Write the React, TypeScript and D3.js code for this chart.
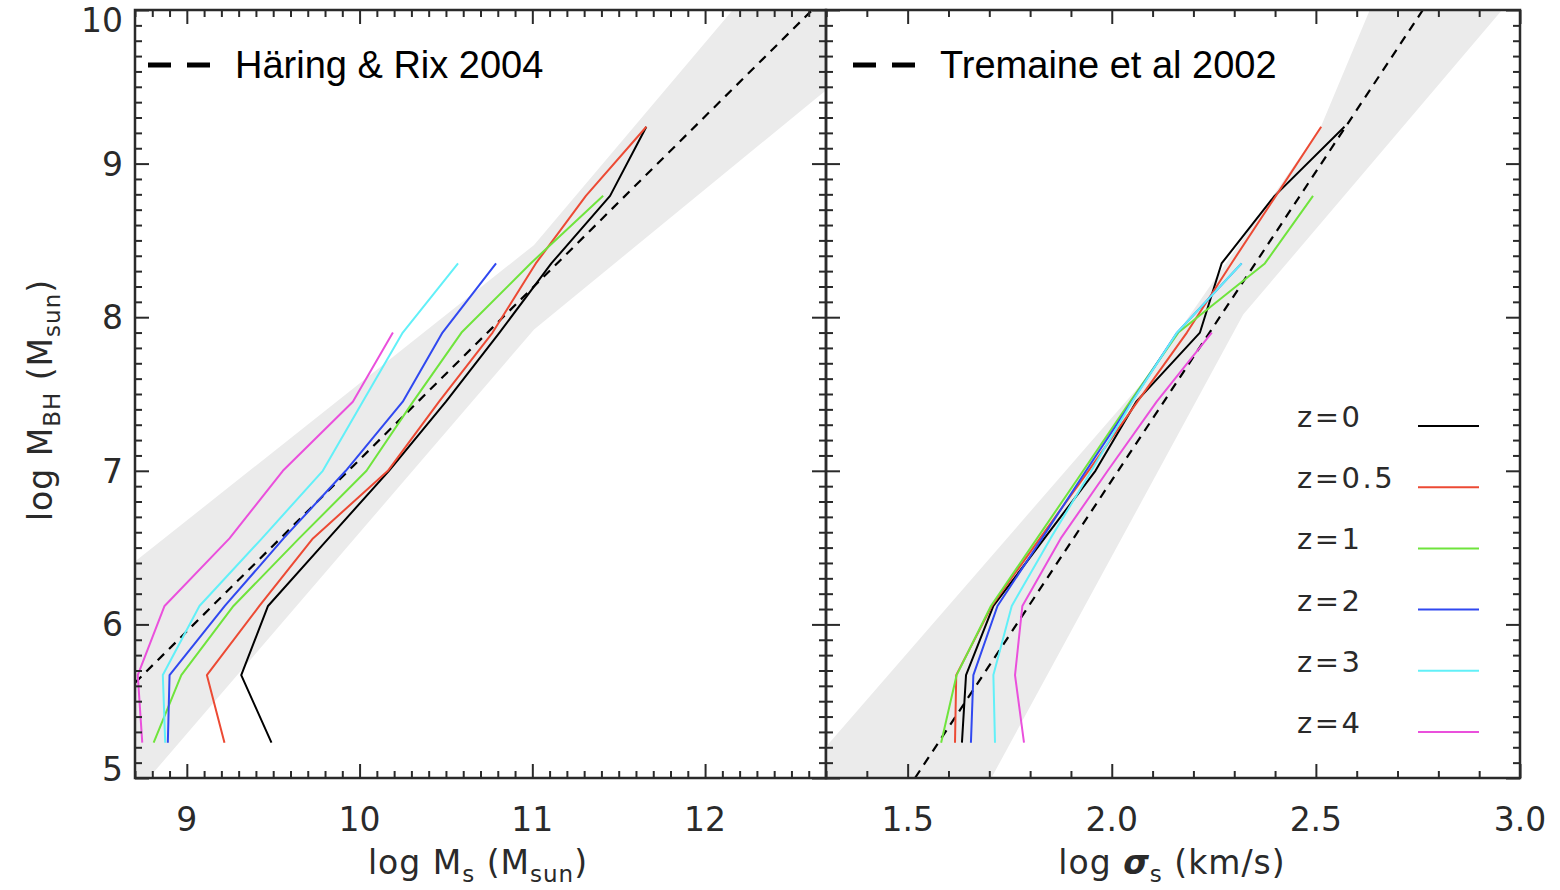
import React, { useEffect, useRef } from "react";
import * as d3 from "d3";

// black hole mass bins (log M_BH) every curve is sampled at
const mbhLevels = [5.23, 5.67, 6.12, 6.56, 7.0, 7.45, 7.9, 8.35, 8.79, 9.24];

const redshifts = ["z=0", "z=0.5", "z=1", "z=2", "z=3", "z=4"];
const colors = ["#000000", "#ec4a34", "#6fe43c", "#3048f0", "#62f0f8", "#ea50dc"];

// log Ms per mass bin, one array per redshift
const msZ0 = [9.49, 9.315, 9.47, 9.82, 10.17, 10.5, 10.81, 11.11, 11.45, 11.66];
const msZ05 = [9.218, 9.116, 9.42, 9.73, 10.164, 10.46, 10.77, 11.02, 11.31, 11.66];
const msZ1 = [8.808, 8.968, 9.27, 9.65, 10.04, 10.31, 10.59, 10.99, 11.41];
const msZ2 = [8.89, 8.9, 9.22, 9.56, 9.92, 10.25, 10.48, 10.79];
const msZ3 = [8.875, 8.861, 9.073, 9.435, 9.787, 10.018, 10.25, 10.57];
const msZ4 = [8.742, 8.716, 8.871, 9.247, 9.556, 9.961, 10.193];

// log sigma per mass bin, one array per redshift
const sigZ0 = [1.633, 1.643, 1.71, 1.835, 1.96, 2.06, 2.216, 2.269, 2.399, 2.57];
const sigZ05 = [1.616, 1.619, 1.706, 1.824, 1.943, 2.063, 2.184, 2.293, 2.402, 2.513];
const sigZ1 = [1.582, 1.62, 1.704, 1.817, 1.93, 2.045, 2.163, 2.375, 2.493];
const sigZ2 = [1.655, 1.661, 1.72, 1.829, 1.937, 2.049, 2.16, 2.318];
const sigZ3 = [1.714, 1.71, 1.755, 1.85, 1.95, 2.05, 2.16, 2.318];
const sigZ4 = [1.785, 1.763, 1.781, 1.875, 1.99, 2.11, 2.245];

// observed relations (dashed) and their scatter bands
const hrLineX = [8.7, 12.62];
const hrLineY = [5.62, 10.0];
const hrBandX = [8.6, 11.01, 12.16, 12.3, 12.8, 12.8, 11.01, 8.78, 8.7, 8.6];
const hrBandY = [6.32, 8.47, 10.0, 10.2, 10.2, 9.57, 7.92, 5.0, 4.9, 4.9];

const tLineX = [1.518, 2.762];
const tLineY = [5.0, 10.0];
const tBandX = [1.25, 2.083, 2.512, 2.632, 2.66, 3.02, 2.956, 2.322, 1.705, 1.68, 1.25];
const tBandY = [5.05, 7.6, 9.239, 10.0, 10.2, 10.2, 10.0, 8.017, 5.0, 4.9, 4.9];

const yTicks = [5, 6, 7, 8, 9, 10];
const msTicks = [9, 10, 11, 12];
const sigTicks = [1.5, 2.0, 2.5, 3.0];

const App = () => {
  const ref = useRef<SVGSVGElement>(null);

  useEffect(() => {
    const svg = d3.select(ref.current);
    svg.selectAll("*").remove();

    const top = 10;
    const bottom = 778;
    const tickFont = "DejaVu Sans";
    const ink = "#2a2a2a";

    const y = d3.scaleLinear().domain([5, 10]).range([bottom, top]);
    const xMs = d3.scaleLinear().domain([8.7, 12.7]).range([135, 826]);
    const xSig = d3.scaleLinear().domain([1.3, 3.0]).range([826, 1520]);

    const yMinor = d3.range(50, 101).map((v) => v / 10).filter((v) => !yTicks.includes(v));

    const panel = (id, x, bandX, bandY, relX, relY, series, major, minor) => {
      const [x0, x1] = x.range();
      const line = d3
        .line()
        .x((d) => x(d[0]))
        .y((d) => y(d[1]));

      svg
        .append("clipPath")
        .attr("id", id)
        .append("rect")
        .attr("x", x0)
        .attr("y", top)
        .attr("width", x1 - x0)
        .attr("height", bottom - top);

      const g = svg.append("g").attr("clip-path", `url(#${id})`);

      // scatter band
      g.append("path")
        .datum(d3.zip(bandX, bandY))
        .attr("fill", "#ebebeb")
        .attr("d", (d) => line(d) + "Z");

      // observed relation
      g.append("path")
        .datum(d3.zip(relX, relY))
        .attr("fill", "none")
        .attr("stroke", "#000")
        .attr("stroke-width", 2.2)
        .attr("stroke-dasharray", "9,7")
        .attr("d", line);

      // model curves
      series.forEach((vals, i) => {
        g.append("path")
          .datum(d3.zip(vals, mbhLevels))
          .attr("fill", "none")
          .attr("stroke", colors[i])
          .attr("stroke-width", 2)
          .attr("stroke-linejoin", "round")
          .attr("d", line);
      });

      // ticks on all four sides, pointing inwards
      const axes = svg.append("g").attr("color", ink).attr("stroke-width", 2);
      const put = (axis, tx, ty) => {
        axes
          .append("g")
          .attr("transform", `translate(${tx},${ty})`)
          .call(axis.tickFormat(() => ""))
          .call((s) => s.select(".domain").remove());
      };
      put(d3.axisBottom(x).tickValues(major).tickSize(-14), 0, bottom);
      put(d3.axisBottom(x).tickValues(minor).tickSize(-7), 0, bottom);
      put(d3.axisTop(x).tickValues(major).tickSize(-14), 0, top);
      put(d3.axisTop(x).tickValues(minor).tickSize(-7), 0, top);
      put(d3.axisLeft(y).tickValues(yTicks).tickSize(-14), x0, 0);
      put(d3.axisLeft(y).tickValues(yMinor).tickSize(-7), x0, 0);
      put(d3.axisRight(y).tickValues(yTicks).tickSize(-14), x1, 0);
      put(d3.axisRight(y).tickValues(yMinor).tickSize(-7), x1, 0);

      axes
        .append("rect")
        .attr("x", x0)
        .attr("y", top)
        .attr("width", x1 - x0)
        .attr("height", bottom - top)
        .attr("fill", "none")
        .attr("stroke", ink)
        .attr("stroke-width", 2.5);
    };

    const msMinor = d3.range(87, 128).map((v) => v / 10).filter((v) => !msTicks.includes(v));
    const sigMinor = d3.range(13, 31).map((v) => v / 10).filter((v) => !sigTicks.includes(v));

    panel("clipL", xMs, hrBandX, hrBandY, hrLineX, hrLineY, [msZ0, msZ05, msZ1, msZ2, msZ3, msZ4], msTicks, msMinor);
    panel("clipR", xSig, tBandX, tBandY, tLineX, tLineY, [sigZ0, sigZ05, sigZ1, sigZ2, sigZ3, sigZ4], sigTicks, sigMinor);

    // tick labels
    svg
      .append("g")
      .selectAll("text")
      .data(yTicks)
      .join("text")
      .attr("x", 123)
      .attr("y", (d) => y(d) + 12 + (d === 10 ? 10 : d === 5 ? -9 : 0))
      .attr("text-anchor", "end")
      .attr("font-family", tickFont)
      .attr("font-size", 33)
      .attr("fill", ink)
      .text((d) => d);

    svg
      .append("g")
      .selectAll("text")
      .data(msTicks)
      .join("text")
      .attr("x", (d) => xMs(d))
      .attr("y", 831)
      .attr("text-anchor", "middle")
      .attr("font-family", tickFont)
      .attr("font-size", 33)
      .attr("fill", ink)
      .text((d) => d);

    svg
      .append("g")
      .selectAll("text")
      .data(sigTicks)
      .join("text")
      .attr("x", (d) => xSig(d))
      .attr("y", 831)
      .attr("text-anchor", "middle")
      .attr("font-family", tickFont)
      .attr("font-size", 33)
      .attr("fill", ink)
      .text((d) => d3.format(".1f")(d));

    // axis titles
    const title = (t, parts) => {
      parts.forEach(([s, sub, extra]) => {
        const ts = t.append("tspan").text(s);
        if (sub === 1) ts.attr("font-size", 23).attr("dy", 8);
        if (sub === -1) ts.attr("dy", -8);
        if (extra) ts.attr("font-weight", "bold").attr("font-style", "italic");
      });
    };

    const xt1 = svg
      .append("text")
      .attr("x", 478)
      .attr("y", 874)
      .attr("text-anchor", "middle")
      .attr("font-family", tickFont)
      .attr("font-size", 33)
      .attr("letter-spacing", 1)
      .attr("fill", ink);
    title(xt1, [["log  M", 0], ["s", 1], [" (M", -1], ["sun", 1], [")", -1]]);

    const xt2 = svg
      .append("text")
      .attr("x", 1172)
      .attr("y", 874)
      .attr("text-anchor", "middle")
      .attr("font-family", tickFont)
      .attr("font-size", 33)
      .attr("letter-spacing", 1)
      .attr("fill", ink);
    title(xt2, [["log  ", 0], ["σ", 0, true], ["s", 1], [" (km/s)", -1]]);

    const yt = svg
      .append("text")
      .attr("transform", "translate(52,400) rotate(-90)")
      .attr("text-anchor", "middle")
      .attr("font-family", tickFont)
      .attr("font-size", 33)
      .attr("letter-spacing", 1)
      .attr("fill", ink);
    title(yt, [["log  M", 0], ["BH", 1], [" (M", -1], ["sun", 1], [")", -1]]);

    // relation legends in the top-left corners
    const relLegend = (x0, label) => {
      const lg = svg.append("g");
      [0, 39].forEach((off) => {
        lg.append("line")
          .attr("x1", x0 + off)
          .attr("x2", x0 + off + 23)
          .attr("y1", 65)
          .attr("y2", 65)
          .attr("stroke", "#000")
          .attr("stroke-width", 5);
      });
      lg.append("text")
        .attr("x", x0 + 87)
        .attr("y", 78)
        .attr("font-family", "Liberation Sans")
        .attr("font-size", 38)
        .attr("fill", "#000")
        .text(label);
    };
    relLegend(148, "Häring & Rix 2004");
    relLegend(853, "Tremaine et al 2002");

    // redshift legend
    const leg = svg
      .append("g")
      .selectAll("g")
      .data(redshifts)
      .join("g")
      .attr("transform", (d, i) => `translate(0,${427 + i * 61.2})`);
    leg
      .append("text")
      .attr("x", 1297)
      .attr("font-family", tickFont)
      .attr("font-size", 29)
      .attr("letter-spacing", 2.5)
      .attr("fill", ink)
      .text((d) => d);
    leg
      .append("line")
      .attr("x1", 1418)
      .attr("x2", 1479)
      .attr("y1", -1)
      .attr("y2", -1)
      .attr("stroke", (d, i) => colors[i])
      .attr("stroke-width", 2);
  }, []);

  return (
    <svg
      ref={ref}
      width={1560}
      height={890}
      style={{ position: "absolute", left: 0, top: 0, background: "#fff" }}
    />
  );
};

export default App;
